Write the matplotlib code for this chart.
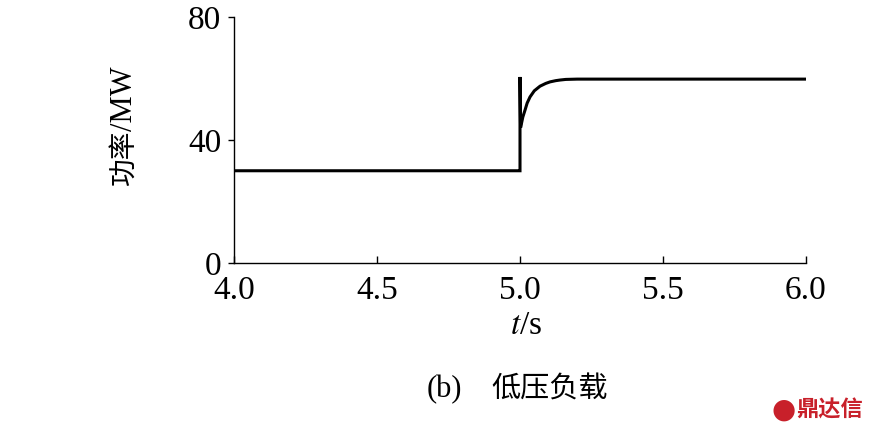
import matplotlib
matplotlib.use("Agg")
import matplotlib.pyplot as plt
import numpy as np

# data
t = [4.0, 4.999, 5.0, 5.0, 5.002, 5.01, 5.0175, 5.025, 5.035, 5.05, 5.07, 5.09, 5.105, 5.125, 5.14, 5.16, 5.2, 5.4, 5.6, 5.8, 6.0]
p = [30.0, 30.0, 30.0, 60.5, 44.0, 47.5, 49.7, 52.0, 54.0, 56.0, 57.5, 58.4, 58.9, 59.3, 59.5, 59.7, 59.8, 59.8, 59.8, 59.8, 59.8]
xticks = [4.0, 4.5, 5.0, 5.5, 6.0]
xticklabels = ["4.0", "4.5", "5.0", "5.5", "6.0"]
yticks = [0, 40, 80]
yticklabels = ["0", "40", "80"]

serif = ["Liberation Serif", "DejaVu Serif"]
cjk = ["Noto Sans CJK SC", "Liberation Serif"]

fig = plt.figure(figsize=(8.75, 4.38), dpi=100)
ax = fig.add_axes([234/875, 1-263/438, (806-234)/875, (263-17)/438])
ax.plot(t, p, color="black", lw=2.2, solid_joinstyle="miter")
ax.set_xlim(4.0, 6.0)
ax.set_ylim(0, 80)
ax.set_xticks(xticks)
ax.set_xticklabels(xticklabels, fontfamily=serif, fontsize=24)
ax.set_yticks(yticks)
ax.set_yticklabels(yticklabels, fontfamily=serif, fontsize=24)
ax.tick_params(axis="x", direction="in", length=5, width=1, pad=9)
ax.tick_params(axis="y", direction="out", length=4, width=1, pad=5)
for s in ["top", "right"]:
    ax.spines[s].set_visible(False)
for s in ["left", "bottom"]:
    ax.spines[s].set_linewidth(1)

# y label: Chinese part + serif unit part, stacked vertically
fig.text(124/875, 1-157/438, "功率", rotation=90, ha="center", va="center",
         fontfamily=cjk, fontsize=20)
fig.text(124/875, 1-131/438, "/MW", rotation=90, ha="center", va="bottom",
         fontfamily=serif, fontsize=22)
fig.text(526/875, 1-326/438, r"$\mathit{t}$/s", ha="center", va="center",
         fontfamily=serif, fontsize=24, math_fontfamily="stix")
fig.text(444/875, 1-390/438, "(b)", ha="center", va="center", fontfamily=serif, fontsize=22)
fig.text(550/875, 1-390/438, "低压负载", ha="center", va="center", fontfamily=cjk, fontsize=21)
fig.text(830/875, 1-410/438, "鼎达信", ha="center", va="center", fontfamily=cjk,
         fontsize=16, color="#c8202a", fontweight="bold")
fig.text(784/875, 1-410/438, "●", ha="center", va="center", fontfamily=["DejaVu Sans"],
         fontsize=20, color="#c8202a")

fig.savefig("out.png", dpi=100)
